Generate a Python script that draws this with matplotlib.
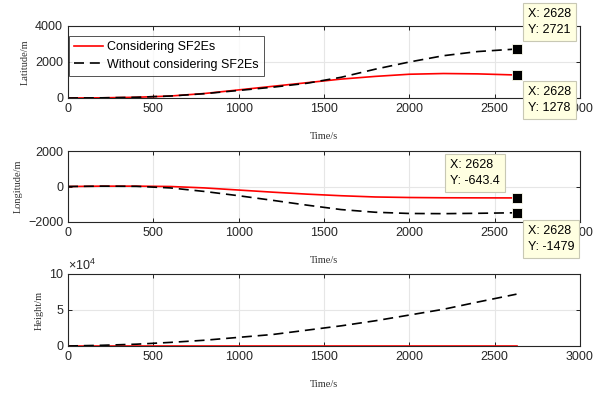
import matplotlib.pyplot as plt
import numpy as np
from matplotlib.ticker import FuncFormatter

# time samples (s)
t = [0, 200, 400, 600, 800, 1000, 1200, 1400, 1600, 1800, 2000, 2200, 2400, 2628]

lat_sf2e = [0, 10, 40, 110, 250, 450, 650, 850, 1050, 1200, 1320, 1360, 1340, 1278]
lat_none = [0, 10, 40, 110, 240, 420, 600, 820, 1150, 1600, 2000, 2350, 2580, 2721]

lon_sf2e = [0, 20, 20, 0, -80, -200, -320, -430, -520, -590, -620, -635, -640, -643.4]
lon_none = [0, 20, 10, -80, -280, -520, -780, -1050, -1300, -1450, -1520, -1530, -1510, -1479]

h_sf2e = [0, 0, 0, 0, 0, 0, 0, 0, 0, 0, 0, 0, 0, 0]
h_none = [0, 1000, 2500, 5000, 8000, 12000, 16000, 22000, 28000, 35000, 43000, 51000, 61000, 72000]

tick_font = 'Liberation Sans'
lab_font = 'Liberation Serif'
plt.rcParams['mathtext.fontset'] = 'custom'
plt.rcParams['mathtext.rm'] = tick_font
plt.rcParams['mathtext.it'] = tick_font

fig = plt.figure(figsize=(6.08, 3.95), dpi=100)
left, width = 68 / 608, 512 / 608
ax1 = fig.add_axes([left, 1 - 98 / 395, width, 72 / 395])
ax2 = fig.add_axes([left, 1 - 222 / 395, width, 71 / 395])
ax3 = fig.add_axes([left, 1 - 346 / 395, width, 72 / 395])

dash = (0, (6, 3.5))


def style(ax, ylabel):
    ax.set_xlim(0, 3000)
    ax.set_xticks(np.arange(0, 3001, 500))
    ax.grid(True, color='#e6e6e6', linewidth=0.8)
    ax.set_axisbelow(True)
    ax.tick_params(direction='in', length=3, top=True, right=True, labelsize=9, pad=3.5, width=0.6)
    for lbl in ax.get_xticklabels() + ax.get_yticklabels():
        lbl.set_fontfamily(tick_font)
        lbl.set_color('#262626')
    for s in ax.spines.values():
        s.set_linewidth(0.8)
        s.set_color('#262626')
    ax.set_xlabel('Time/s', fontfamily=lab_font, fontsize=7.5, labelpad=12, color='#333333')
    ax.set_ylabel(ylabel, fontfamily=lab_font, fontsize=7.5, labelpad=4, color='#333333')


tip_box = dict(boxstyle='square,pad=0.4', fc='#ffffe1', ec='#c8c8b4', lw=0.8)


def tip(ax, x, y, txt, dx, dy, ha, va):
    ax.annotate(txt, xy=(x, y), xytext=(dx, dy), textcoords='offset pixels',
                ha=ha, va=va, multialignment='left', fontsize=9, fontfamily=tick_font,
                bbox=tip_box, annotation_clip=False, zorder=10, linespacing=1.45)
    ax.plot([x], [y], 's', color='black', markersize=6.5, mec='#fffff0', mew=0.6,
            clip_on=False, zorder=9)


# Latitude
ax1.plot(t, lat_sf2e, color='red', lw=1.2, label='Considering SF2Es')
ax1.plot(t, lat_none, color='black', lw=1.2, ls=dash, label='Without considering SF2Es')
ax1.set_ylim(0, 4000)
ax1.set_yticks([0, 2000, 4000])
style(ax1, 'Latitude/m')
leg = ax1.legend(loc='upper left', bbox_to_anchor=(0.002, 0.86), fontsize=9, frameon=True,
                 fancybox=False, edgecolor='#262626', borderpad=0.4, handlelength=2.3,
                 handletextpad=0.35, labelspacing=0.45, borderaxespad=0.0)
leg.get_frame().set_linewidth(0.7)
for txt in leg.get_texts():
    txt.set_fontfamily(tick_font)
tip(ax1, t[-1], lat_none[-1], 'X: 2628\nY: 2721', 11, 13, 'left', 'bottom')
tip(ax1, t[-1], lat_sf2e[-1], 'X: 2628\nY: 1278', 11, -11, 'left', 'top')

# Longitude
ax2.plot(t, lon_sf2e, color='red', lw=1.2)
ax2.plot(t, lon_none, color='black', lw=1.2, ls=dash)
ax2.set_ylim(-2000, 2000)
ax2.set_yticks([-2000, 0, 2000])
style(ax2, 'Longitude/m')
tip(ax2, t[-1], lon_sf2e[-1], 'X: 2628\nY: -643.4', -17, 11, 'right', 'bottom')
tip(ax2, t[-1], lon_none[-1], 'X: 2628\nY: -1479', 11, -12, 'left', 'top')

# Height
ax3.plot(t, h_sf2e, color='red', lw=1.2)
ax3.plot(t, h_none, color='black', lw=1.2, ls=dash)
ax3.set_ylim(0, 100000)
ax3.set_yticks([0, 50000, 100000])
ax3.yaxis.set_major_formatter(FuncFormatter(lambda v, p: '%d' % round(v / 1e4)))
style(ax3, 'Height/m')
ax3.text(0.0, 1.01, r'$\times10^{4}$', transform=ax3.transAxes, fontsize=9,
         ha='left', va='bottom', color='#262626')

fig.savefig('out.png', dpi=100)
